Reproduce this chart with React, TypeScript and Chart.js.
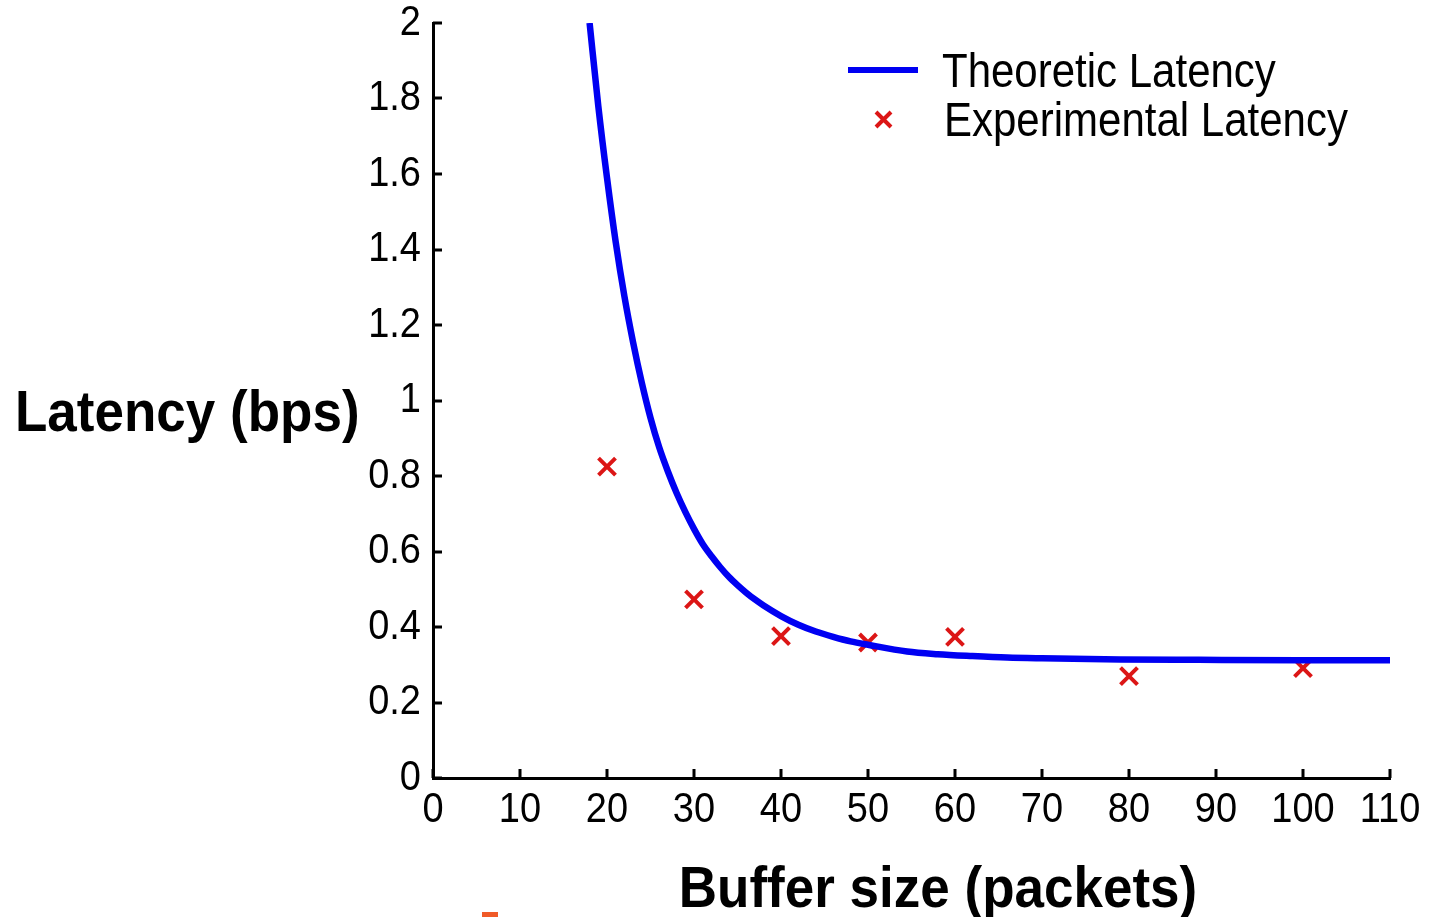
import { useEffect, useRef } from 'react';
import { Chart, registerables } from 'chart.js';

Chart.register(...registerables);

// ---------- data ----------
const xTickValues = [0, 10, 20, 30, 40, 50, 60, 70, 80, 90, 100, 110];
const xTickLabels = ['0', '10', '20', '30', '40', '50', '60', '70', '80', '90', '100', '110'];
const yTickValues = [0, 0.2, 0.4, 0.6, 0.8, 1, 1.2, 1.4, 1.6, 1.8, 2];
const yTickLabels = ['0', '0.2', '0.4', '0.6', '0.8', '1', '1.2', '1.4', '1.6', '1.8', '2'];

const theoreticX = [18, 19, 20, 21, 22, 23, 24, 25, 26, 27, 28, 29, 30, 31, 32, 33, 34, 35, 36, 37, 38, 40, 42, 44, 46, 48, 50, 54.5, 58, 62, 66, 70, 79, 88, 100, 110];
const theoreticY = [2.0, 1.78, 1.59, 1.42, 1.276, 1.154, 1.047, 0.954, 0.876, 0.812, 0.755, 0.705, 0.66, 0.62, 0.588, 0.559, 0.533, 0.511, 0.491, 0.473, 0.457, 0.429, 0.406, 0.388, 0.374, 0.362, 0.353, 0.335, 0.328, 0.323, 0.319, 0.317, 0.314, 0.313, 0.312, 0.312];

const experimentalX = [20, 30, 40, 50, 60, 80, 100];
const experimentalY = [0.825, 0.473, 0.376, 0.359, 0.374, 0.27, 0.291];

const seriesNames = ['Theoretic Latency', 'Experimental Latency'];
const xAxisTitle = 'Buffer size (packets)';
const yAxisTitle = 'Latency (bps)';

// ---------- style ----------
const W = 1429;
const H = 917;
const FONT = '"Liberation Sans", Arial, Helvetica, sans-serif';
const BLUE = '#0000f2';
const RED = '#dc1616';

function drawText(
  ctx: CanvasRenderingContext2D,
  text: string,
  x: number,
  y: number,
  font: string,
  align: CanvasTextAlign,
  baseline: CanvasTextBaseline,
  sy: number
) {
  ctx.save();
  ctx.translate(x, y);
  ctx.scale(1, sy);
  ctx.font = font;
  ctx.textAlign = align;
  ctx.textBaseline = baseline;
  ctx.fillStyle = '#000';
  ctx.fillText(text, 0, 0);
  ctx.restore();
}

const decorPlugin = {
  id: 'decor',
  afterDraw(chart: any) {
    const { ctx, chartArea: a, scales } = chart;
    const xs = scales.x;
    const ys = scales.y;
    ctx.save();

    // inward tick marks
    ctx.strokeStyle = '#000';
    ctx.lineWidth = 3;
    ctx.beginPath();
    xTickValues.forEach((v) => {
      const px = Math.round(xs.getPixelForValue(v));
      ctx.moveTo(px, a.bottom);
      ctx.lineTo(px, a.bottom - 9);
    });
    yTickValues.forEach((v) => {
      const py = Math.round(ys.getPixelForValue(v));
      ctx.moveTo(a.left, py);
      ctx.lineTo(a.left + 9, py);
    });
    ctx.stroke();

    // tick labels (slightly tall font, as in the original)
    const tickFont = `38px ${FONT}`;
    xTickValues.forEach((v, i) => {
      drawText(ctx, xTickLabels[i], xs.getPixelForValue(v), a.bottom + 32, tickFont, 'center', 'middle', 1.13);
    });
    yTickValues.forEach((v, i) => {
      drawText(ctx, yTickLabels[i], a.left - 12, ys.getPixelForValue(v), tickFont, 'right', 'middle', 1.13);
    });

    // legend
    ctx.strokeStyle = BLUE;
    ctx.lineWidth = 6;
    ctx.beginPath();
    ctx.moveTo(848, 70);
    ctx.lineTo(918, 70);
    ctx.stroke();

    ctx.strokeStyle = RED;
    ctx.lineWidth = 4;
    ctx.beginPath();
    ctx.moveTo(876, 112);
    ctx.lineTo(891, 127);
    ctx.moveTo(891, 112);
    ctx.lineTo(876, 127);
    ctx.stroke();

    const legFont = `42px ${FONT}`;
    drawText(ctx, seriesNames[0], 942, 87, legFont, 'left', 'alphabetic', 1.14);
    drawText(ctx, seriesNames[1], 944, 136, legFont, 'left', 'alphabetic', 1.14);

    // axis titles
    const titleFont = `bold 53px ${FONT}`;
    drawText(ctx, yAxisTitle, 15, 431, titleFont, 'left', 'alphabetic', 1.08);
    drawText(ctx, xAxisTitle, 938, 907, titleFont, 'center', 'alphabetic', 1.08);

    // small orange mark at bottom
    ctx.fillStyle = '#f05a28';
    ctx.fillRect(482, 912, 16, 5);

    ctx.restore();
  },
};

export default function App() {
  const canvasRef = useRef<HTMLCanvasElement | null>(null);

  useEffect(() => {
    const canvas = canvasRef.current;
    if (!canvas) return;

    const lineData = theoreticX.map((x, i) => ({ x, y: theoreticY[i] }));
    const pointData = experimentalX.map((x, i) => ({ x, y: experimentalY[i] }));

    const chart = new Chart(canvas, {
      type: 'scatter',
      data: {
        datasets: [
          {
            label: seriesNames[0],
            data: lineData,
            showLine: true,
            borderColor: BLUE,
            backgroundColor: BLUE,
            borderWidth: 6.5,
            pointRadius: 0,
            cubicInterpolationMode: 'monotone',
            fill: false,
          },
          {
            label: seriesNames[1],
            data: pointData,
            showLine: false,
            pointStyle: 'crossRot',
            pointRadius: 12,
            pointBorderWidth: 4,
            borderColor: RED,
            backgroundColor: RED,
            pointBorderColor: RED,
          },
        ],
      },
      options: {
        responsive: false,
        maintainAspectRatio: false,
        animation: false,
        events: [],
        layout: { padding: { top: 23, right: 39, left: 0, bottom: 0 } },
        plugins: {
          legend: { display: false },
          tooltip: { enabled: false },
          title: { display: false },
        },
        scales: {
          x: {
            type: 'linear',
            min: 0,
            max: 110,
            grid: { display: false, drawTicks: false },
            border: { display: true, color: '#000', width: 3 },
            afterBuildTicks: (s: any) => {
              s.ticks = xTickValues.map((v) => ({ value: v }));
            },
            afterFit: (s: any) => {
              s.height = H - 778;
            },
            ticks: { display: false },
          },
          y: {
            type: 'linear',
            min: 0,
            max: 2,
            grid: { display: false, drawTicks: false },
            border: { display: true, color: '#000', width: 3 },
            afterBuildTicks: (s: any) => {
              s.ticks = yTickValues.map((v) => ({ value: v }));
            },
            afterFit: (s: any) => {
              s.width = 433;
            },
            ticks: { display: false },
          },
        },
      },
      plugins: [decorPlugin],
    } as any);

    return () => {
      chart.destroy();
    };
  }, []);

  return (
    <div style={{ position: 'absolute', left: 0, top: 0, width: W, height: H, background: '#fff' }}>
      <canvas ref={canvasRef} width={W} height={H} style={{ display: 'block', width: W, height: H }} />
    </div>
  );
}
